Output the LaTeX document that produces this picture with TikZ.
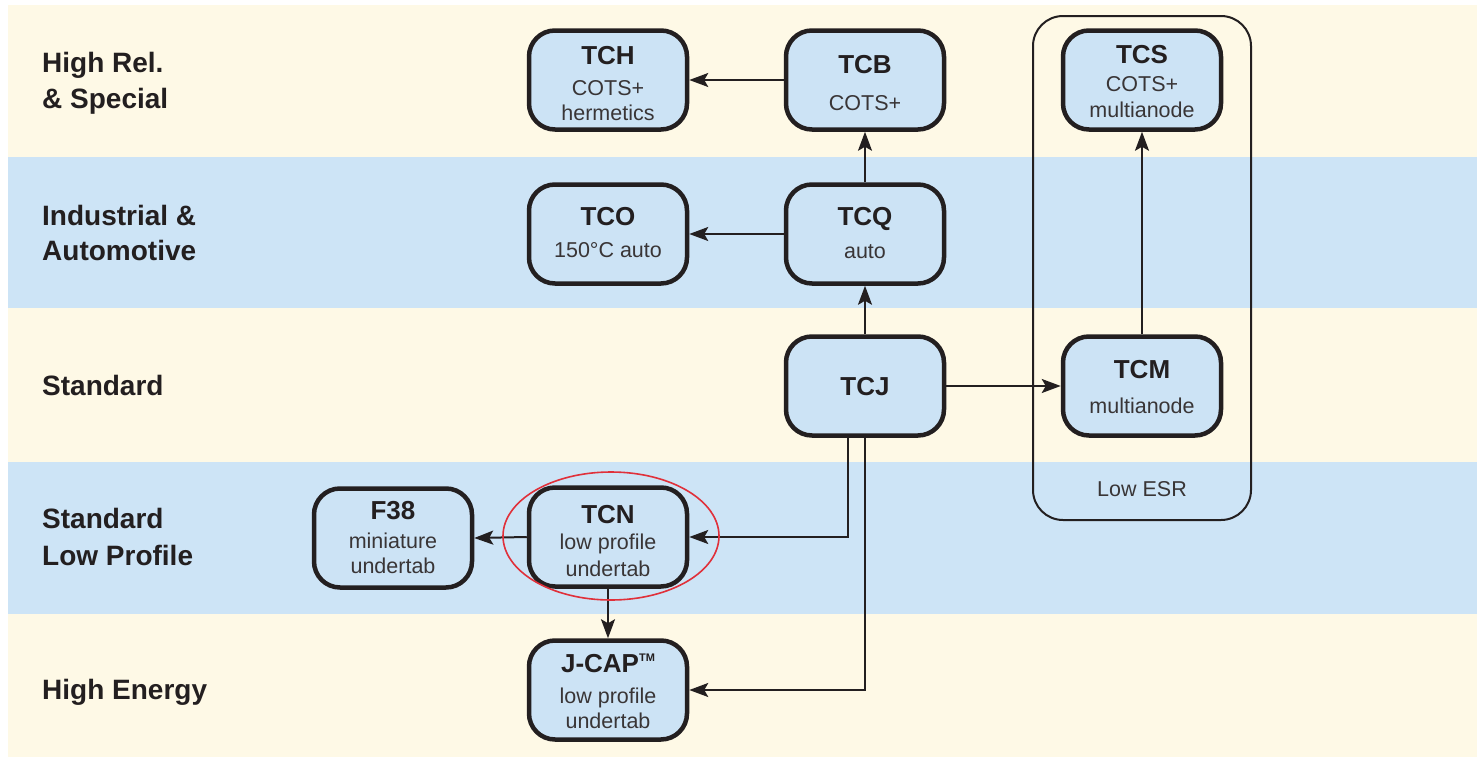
\documentclass[tikz,border=0pt]{standalone}
\usepackage{fontspec}
\setmainfont{Liberation Sans}
\usetikzlibrary{arrows.meta,shapes.geometric}
\definecolor{cream}{HTML}{FEF9E6}
\definecolor{bandblue}{HTML}{CDE4F6}
\definecolor{boxblue}{HTML}{CCE3F5}
\definecolor{ink}{HTML}{231F20}
\definecolor{redring}{HTML}{E0303A}
\tikzset{
  prod/.style={draw=ink, line width=4.5pt, fill=boxblue, rounded corners=26pt,
    minimum width=158pt, minimum height=99pt, inner sep=0pt},
  ttl/.style={anchor=base, font=\fontsize{26}{30}\selectfont\bfseries, text=ink, inner sep=0pt},
  sub/.style={anchor=base, font=\fontsize{21.5}{25}\selectfont, text=ink!90, inner sep=0pt},
  row/.style={anchor=base west, font=\fontsize{28}{32}\selectfont\bfseries, text=ink, inner sep=0pt},
  conn/.style={draw=ink, line width=2pt, -{Stealth[length=19pt,width=14pt,inset=4pt]}},
}
\begin{document}
\begin{tikzpicture}[x=1pt,y=-1pt]
\useasboundingbox (0,0) rectangle (1484,758);
% background bands
\fill[white] (0,0) rectangle (1484,758);
\fill[cream] (8,5) rectangle (1477,757);
\fill[bandblue] (8,157) rectangle (1477,308);
\fill[bandblue] (8,462) rectangle (1477,614);

% row labels
\node[row] (r1a) at (42,72) {High Rel.};
\node[row] (r1b) at (42,108) {\& Special};
\node[row] (r2a) at (42,225) {Industrial \&};
\node[row] (r2b) at (42,260) {Automotive};
\node[row] (r3) at (42,395) {Standard};
\node[row] (r4a) at (42,528) {Standard};
\node[row] (r4b) at (42,565) {Low Profile};
\node[row] (r5) at (42,699) {High Energy};

% Low ESR group
\node[draw=ink, line width=2pt, rounded corners=30pt, minimum width=218pt,
  minimum height=504pt, inner sep=0pt] (esr) at (1142,268) {};
\node[sub] (esrlbl) at (1142,496) {Low ESR};

% product boxes
\node[prod] (TCH) at (608,80) {};
\node[prod] (TCB) at (865,80) {};
\node[prod] (TCO) at (608,234) {};
\node[prod] (TCQ) at (865,234) {};
\node[prod] (TCJ) at (865,386) {};
\node[prod] (TCS) at (1142,80) {};
\node[prod] (TCM) at (1142,386) {};
\node[prod] (F38) at (393,538) {};
\node[prod] (TCN) at (608,537) {};
\node[prod] (JCAP) at (608,690) {};

% texts
\node[ttl] (tTCH) at (608,64) {TCH};
\node[sub] (sTCHa) at (608,95) {COTS+};
\node[sub] (sTCHb) at (608,120) {hermetics};
\node[ttl] (tTCB) at (865,73) {TCB};
\node[sub] (sTCB) at (865,110) {COTS+};
\node[ttl] (tTCO) at (608,225) {TCO};
\node[sub] (sTCO) at (608,257) {150°C auto};
\node[ttl] (tTCQ) at (865,225) {TCQ};
\node[sub] (sTCQ) at (865,258) {auto};
\node[ttl] (tTCJ) at (865,395) {TCJ};
\node[ttl] (tTCS) at (1142,63) {TCS};
\node[sub] (sTCSa) at (1142,91) {COTS+};
\node[sub] (sTCSb) at (1142,117) {multianode};
\node[ttl] (tTCM) at (1142,378) {TCM};
\node[sub] (sTCM) at (1142,413) {multianode};
\node[ttl] (tF38) at (393,519) {F38};
\node[sub] (sF38a) at (393,548) {miniature};
\node[sub] (sF38b) at (393,573) {undertab};
\node[ttl] (tTCN) at (608,523) {TCN};
\node[sub] (sTCNa) at (608,549) {low profile};
\node[sub] (sTCNb) at (608,576) {undertab};
\node[ttl] (tJCAP) at (608,672) {J-CAP\raisebox{11pt}{\fontsize{11}{12}\selectfont\bfseries TM}};
\node[sub] (sJCAPa) at (608,703) {low profile};
\node[sub] (sJCAPb) at (608,728) {undertab};

% connectors
\draw[conn] (TCB.west) -- (TCH.east);
\draw[conn] (TCQ.west) -- (TCO.east);
\draw[conn] (TCQ.north) -- (TCB.south);
\draw[conn] (TCJ.north) -- (TCQ.south);
\draw[conn] (TCJ.east) -- (TCM.west);
\draw[conn] (TCM.north) -- (TCS.south);
\draw[conn] (TCN.west) -- (F38.east);
\draw[conn] (TCN.south) -- (JCAP.north);
\draw[conn] (TCJ.south -| 848,0) |- (TCN.east);
\draw[conn] (TCJ.south) |- (JCAP.east);

% highlight ring
\node[draw=redring, line width=1.6pt, ellipse, minimum width=216pt, minimum height=128pt, inner sep=0pt] (ring) at (611,536) {};
\end{tikzpicture}
\end{document}
